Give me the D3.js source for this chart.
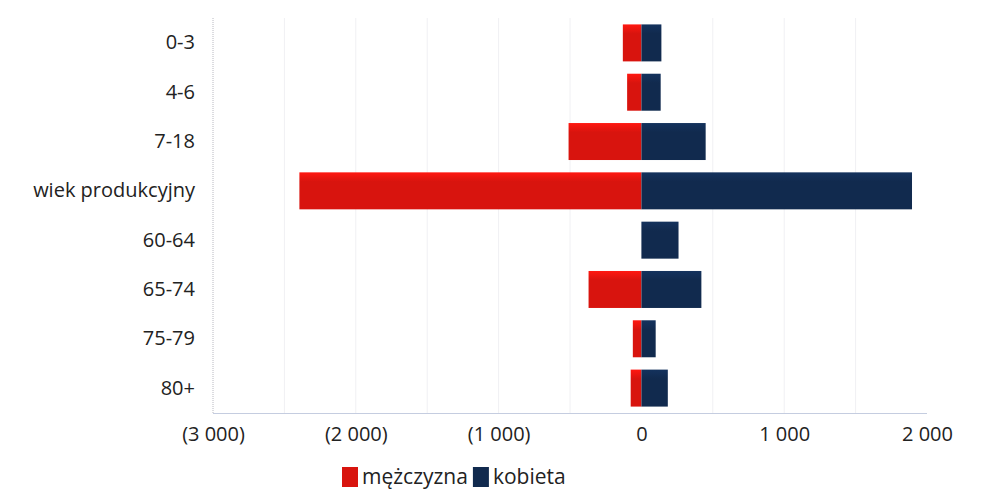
<!DOCTYPE html>
<html><head><meta charset="utf-8">
<script src="https://cdn.jsdelivr.net/npm/d3@7"></script>
<style>
html,body{margin:0;padding:0;background:#fff;}
svg{display:block;font-family:"Open Sans","Noto Sans",sans-serif;}
</style></head>
<body><svg id="c" width="1004" height="490"></svg>
<script>
const categories = ["0-3","4-6","7-18","wiek produkcyjny","60-64","65-74","75-79","80+"];
const men   = [130, 100, 510, 2395, 0, 370, 60, 75];
const women = [140, 135, 450, 1895, 260, 420, 100, 185];
const seriesNames = ["mężczyzna","kobieta"];
const xTicks = [-3000,-2000,-1000,0,1000,2000];
const gridValues = [-2500,-2000,-1500,-1000,-500,500,1000,1500];

(function(){
const colors = ["#d8140e","#112a4e"];
const svg = d3.select("#c");
const mLeft = 213, mRight = 927, mTop = 18, mBottom = 413;
const font = "'Open Sans',sans-serif";

const x = d3.scaleLinear().domain([-3000,2000]).range([mLeft,mRight]);
const y = d3.scaleBand().domain(categories).range([mTop,mBottom]).paddingInner(0.25).paddingOuter(0.13);

const defs = svg.append("defs");
colors.forEach((c,i)=>{
  const g = defs.append("linearGradient").attr("id","g"+i).attr("x1",0).attr("x2",0).attr("y1",0).attr("y2",1);
  g.append("stop").attr("offset","0%").attr("stop-color",d3.color(c).brighter(0.5));
  g.append("stop").attr("offset","25%").attr("stop-color",c);
  g.append("stop").attr("offset","100%").attr("stop-color",c);
});

svg.append("g").selectAll("line").data(gridValues).join("line")
  .attr("x1",d=>x(d)).attr("x2",d=>x(d)).attr("y1",mTop).attr("y2",mBottom)
  .attr("stroke","#f0f0f3").attr("stroke-width",1);

svg.append("line").attr("x1",mLeft).attr("x2",mLeft).attr("y1",mTop).attr("y2",mBottom)
  .attr("stroke","#b8b8c0").attr("stroke-width",1).attr("stroke-dasharray","1,1");

const rows = categories.map((c,i)=>({c, m:men[i], w:women[i]}));
svg.append("g").selectAll("rect").data(rows).join("rect")
  .attr("x",d=>x(-d.m)).attr("width",d=>x(0)-x(-d.m))
  .attr("y",d=>y(d.c)).attr("height",y.bandwidth()).attr("fill","url(#g0)");
svg.append("g").selectAll("rect").data(rows).join("rect")
  .attr("x",x(0)).attr("width",d=>x(d.w)-x(0))
  .attr("y",d=>y(d.c)).attr("height",y.bandwidth()).attr("fill","url(#g1)");

const fmt = v => { const s = d3.format(",")(Math.abs(v)).replace(/,/g," "); return v<0 ? "("+s+")" : s; };
const xAxis = svg.append("g").attr("transform",`translate(0,${mBottom})`)
  .call(d3.axisBottom(x).tickValues(xTicks).tickFormat(fmt).tickSize(0).tickPadding(14));
xAxis.select(".domain").attr("stroke","#8a9bc0").attr("stroke-width",1.2).attr("stroke-dasharray","1,1");
xAxis.selectAll("text").attr("font-size",20).attr("fill","#222").attr("font-family",font);

const yAxis = svg.append("g").attr("transform",`translate(195,0)`)
  .call(d3.axisLeft(y).tickSize(0).tickPadding(0));
yAxis.select(".domain").remove();
yAxis.selectAll("text").attr("font-size",20).attr("fill","#222").attr("font-family",font);

const leg = svg.append("g").attr("transform","translate(342,467)");
let lx = 0;
seriesNames.forEach((n,i)=>{
  const g = leg.append("g").attr("transform",`translate(${lx},0)`);
  g.append("rect").attr("width",16).attr("height",20).attr("fill",colors[i]);
  const t = g.append("text").attr("x",20).attr("y",17).attr("font-size",21).attr("fill","#222").attr("font-family",font).text(n);
  lx += 20 + t.node().getComputedTextLength() + 5;
});
})();
</script></body></html>
